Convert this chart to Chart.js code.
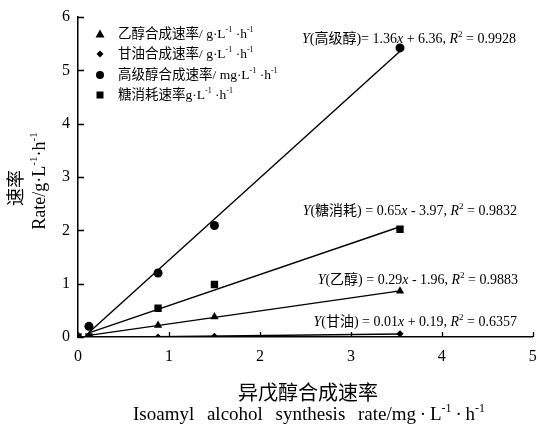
<!DOCTYPE html>
<html>
<head>
<meta charset="utf-8">
<script src="https://cdn.jsdelivr.net/npm/chart.js@4.4.1/dist/chart.umd.min.js"></script>
<style>
  html, body { margin: 0; padding: 0; background: #fff; }
  #wrap { width: 538px; height: 432px; }
</style>
</head>
<body>
<div id="wrap"><canvas id="rateChart" width="538" height="432"></canvas></div>
<script>
// 异戊醇合成速率 (x) 与各速率 (y)
const isoamylRate = [0.12, 0.88, 1.5, 3.54];
const sugarX = [0, 0.12, 0.88, 1.5, 3.54];

const ethanolRate = [0.02, 0.22, 0.38, 0.86];
const glycerolRate = [0.0, 0.0, 0.01, 0.06];
const higherAlcoholRate = [0.2, 1.2, 2.09, 5.42];
const sugarRate = [0, 0.0, 0.54, 0.985, 2.02];

const xTicks = [0, 1, 2, 3, 4, 5];
const yTicks = [0, 1, 2, 3, 4, 5, 6];

const legendLabels = [
    ["乙醇合成速率/ g·L", "-1", " ·h", "-1"],
    ["甘油合成速率/ g·L", "-1", " ·h", "-1"],
    ["高级醇合成速率/ mg·L", "-1", " ·h", "-1"],
    ["糖消耗速率g·L", "-1", " ·h", "-1"]
];
const equations = [
    ["高级醇", ")= 1.36", " + 6.36, ", "0.9928"],
    ["糖消耗", ") = 0.65", " - 3.97, ", "0.9832"],
    ["乙醇", ") = 0.29", " - 1.96, ", "0.9883"],
    ["甘油", ") = 0.01", " + 0.19, ", "0.6357"]
];

const FONT = "'Liberation Serif', 'Noto Sans CJK SC', serif";

function toPoints(xs, ys) {
    return xs.map((x, i) => ({ x: x, y: ys[i] }));
}

// 线性趋势线 (最小二乘), 只用 x > 0 的点
function trendLine(xs, ys) {
    const pts = toPoints(xs, ys).filter(p => p.x > 0);
    const n = pts.length;
    const mx = pts.reduce((s, p) => s + p.x, 0) / n;
    const my = pts.reduce((s, p) => s + p.y, 0) / n;
    let sxy = 0, sxx = 0;
    pts.forEach(p => { sxy += (p.x - mx) * (p.y - my); sxx += (p.x - mx) ** 2; });
    const k = sxy / sxx;
    const b = my - k * mx;
    const x0 = pts[0].x, x1 = pts[n - 1].x;
    return [{ x: x0, y: k * x0 + b }, { x: x1, y: k * x1 + b }];
}

function drawRich(ctx, parts, x, y, size, align) {
    const fontOf = p => (p.i ? "italic " : "") + (p.sup ? Math.round(size * 0.62) : size) + "px " + FONT;
    let w = 0;
    parts.forEach(p => { ctx.font = fontOf(p); w += ctx.measureText(p.t).width; });
    let cx = align === "right" ? x - w : align === "center" ? x - w / 2 : x;
    ctx.textAlign = "left";
    ctx.textBaseline = "middle";
    parts.forEach(p => {
        ctx.font = fontOf(p);
        ctx.fillText(p.t, cx, p.sup ? y - size * 0.33 : y);
        cx += ctx.measureText(p.t).width;
    });
}

function unitParts(arr) {
    return [{ t: arr[0] }, { t: arr[1], sup: true }, { t: arr[2] }, { t: arr[3], sup: true }];
}

function drawMarker(ctx, style, x, y) {
    ctx.beginPath();
    if (style === "triangle") {
        ctx.moveTo(x, y - 4.5); ctx.lineTo(x + 4.5, y + 3.5); ctx.lineTo(x - 4.5, y + 3.5);
    } else if (style === "rectRot") {
        ctx.moveTo(x, y - 3.5); ctx.lineTo(x + 3.5, y); ctx.lineTo(x, y + 3.5); ctx.lineTo(x - 3.5, y);
    } else if (style === "circle") {
        ctx.arc(x, y, 4, 0, Math.PI * 2);
    } else {
        ctx.rect(x - 3.5, y - 3.5, 7, 7);
    }
    ctx.closePath();
    ctx.fill();
}

const extrasPlugin = {
    id: "extras",
    afterDraw(chart) {
        const ctx = chart.ctx;
        const xs = chart.scales.x, ys = chart.scales.y;
        const area = chart.chartArea;
        ctx.save();
        ctx.fillStyle = "#000";
        ctx.strokeStyle = "#000";
        ctx.lineWidth = 1.3;

        // 刻度线朝内
        ctx.beginPath();
        xTicks.forEach(v => {
            const px = Math.round(xs.getPixelForValue(v)) + 0.5;
            ctx.moveTo(px, area.bottom); ctx.lineTo(px, area.bottom - 5);
        });
        yTicks.forEach(v => {
            const py = Math.round(ys.getPixelForValue(v)) + 0.5;
            ctx.moveTo(area.left, py); ctx.lineTo(area.left + 6, py);
        });
        ctx.stroke();

        // 图例
        const styles = ["triangle", "rectRot", "circle", "rect"];
        const rows = [34, 54, 75, 95];
        legendLabels.forEach((lab, i) => {
            drawMarker(ctx, styles[i], 100, rows[i]);
            drawRich(ctx, unitParts(lab), 118, rows[i], 13.5, "left");
        });

        // 回归方程
        const eqPos = [[516, 39], [517, 211], [518, 280], [517, 322]];
        equations.forEach((eq, i) => {
            const parts = [
                { t: "Y", i: true }, { t: "(" + eq[0] + eq[1] }, { t: "x", i: true },
                { t: eq[2] }, { t: "R", i: true }, { t: "2", sup: true }, { t: " = " + eq[3] }
            ];
            drawRich(ctx, parts, eqPos[i][0], eqPos[i][1], 14, "right");
        });

        // 坐标轴标题
        drawRich(ctx, [{ t: "异戊醇合成速率" }], 308, 395, 20, "center");
        ctx.wordSpacing = "8px";
        drawRich(ctx, unitParts(["Isoamyl alcohol synthesis rate/mg\u2009·\u2009L", "-1", "\u2009·\u2009h", "-1"]), 309, 415, 19, "center");
        ctx.wordSpacing = "0px";

        ctx.translate(17, 188);
        ctx.rotate(-Math.PI / 2);
        drawRich(ctx, [{ t: "速率" }], 0, 0, 18, "center");
        ctx.rotate(Math.PI / 2);
        ctx.translate(-17, -188);
        ctx.translate(40, 181);
        ctx.rotate(-Math.PI / 2);
        drawRich(ctx, unitParts(["Rate/g·L", "-1", "·h", "-1"]), 0, 0, 18, "center");
        ctx.restore();
    }
};

function markerSet(label, xs, ys, style, radius) {
    return {
        label: label,
        data: toPoints(xs, ys),
        showLine: false,
        pointStyle: style,
        pointRadius: radius,
        backgroundColor: "#000",
        borderColor: "#000",
        borderWidth: 0
    };
}

function lineSet(xs, ys) {
    return {
        data: trendLine(xs, ys),
        showLine: true,
        pointRadius: 0,
        borderColor: "#000",
        borderWidth: 1.4
    };
}

const config = {
    type: "scatter",
    data: {
        datasets: [
            lineSet(isoamylRate, ethanolRate),
            lineSet(isoamylRate, glycerolRate),
            lineSet(isoamylRate, higherAlcoholRate),
            lineSet(sugarX, sugarRate),
            markerSet("乙醇", isoamylRate, ethanolRate, "triangle", 4.8),
            markerSet("甘油", isoamylRate, glycerolRate, "rectRot", 3.6),
            markerSet("高级醇", isoamylRate, higherAlcoholRate, "circle", 4.5),
            markerSet("糖消耗", sugarX, sugarRate, "rect", 5.2)
        ]
    },
    options: {
        responsive: false,
        animation: false,
        devicePixelRatio: 1,
        layout: { padding: { top: 17, right: 5, left: 0, bottom: 0 } },
        plugins: {
            legend: { display: false },
            tooltip: { enabled: false }
        },
        scales: {
            x: {
                type: "linear",
                min: 0,
                max: 5,
                ticks: { stepSize: 1, color: "#000", padding: 10, font: { family: FONT, size: 16 } },
                grid: { display: false, drawTicks: false },
                border: { color: "#000", width: 1.5 },
                afterFit: s => { s.height = 95; s.paddingLeft = 0; s.paddingRight = 0; }
            },
            y: {
                type: "linear",
                min: 0,
                max: 6,
                ticks: { stepSize: 1, color: "#000", padding: 8, font: { family: FONT, size: 16 } },
                grid: { display: false, drawTicks: false },
                border: { color: "#000", width: 1.5 },
                afterFit: s => { s.width = 78; s.paddingTop = 0; s.paddingBottom = 0; }
            }
        }
    },
    plugins: [extrasPlugin]
};

new Chart(document.getElementById("rateChart"), config);
</script>
</body>
</html>
